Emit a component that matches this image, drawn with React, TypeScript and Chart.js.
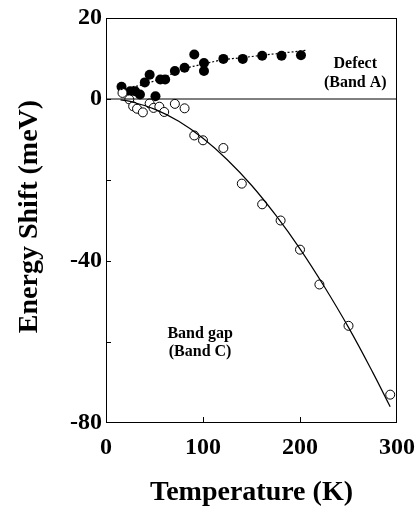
import React, { useEffect, useRef } from "react";
import { Chart, registerables } from "chart.js";

Chart.register(...registerables);

const defectT = [16, 25, 30, 35, 51, 40, 45, 56, 61, 71, 81, 91, 101, 101, 121, 141, 161, 181, 201];
const defectE = [3.0, 1.9, 1.9, 1.1, 0.7, 4.1, 6.0, 4.8, 4.8, 6.9, 7.7, 11.0, 8.9, 6.9, 9.9, 9.9, 10.7, 10.7, 10.8];

const defectFitT = [15, 25, 37, 57, 80, 100, 121, 140, 161, 180, 206];
const defectFitE = [2.3, 2.9, 3.5, 5.1, 7.4, 8.6, 9.7, 10.2, 10.8, 11.3, 12.0];

const gapT = [17, 24, 28, 32, 38, 45, 49, 55, 60, 71, 81, 91, 100, 121, 140, 161, 180, 200, 220, 250, 293];
const gapE = [1.5, -0.1, -1.8, -2.4, -3.3, -1.1, -2.2, -1.9, -3.2, -1.2, -2.3, -9.0, -10.2, -12.1, -20.9, -26.0, -30.0, -37.2, -45.8, -56.0, -73.0];

const gapFitT = [15, 25, 50, 75, 100, 125, 150, 175, 200, 225, 250, 275, 293];
const gapFitE = [-0.2, -0.6, -2.5, -5.5, -9.7, -15.0, -21.3, -28.7, -37.0, -46.3, -56.4, -67.5, -76.0];

const zeroT = [0, 300];
const zeroE = [0, 0];

const yLabelsShown = [20, 0, -40, -80];

const xTitle = "Temperature (K)";
const yTitle = "Energy Shift (meV)";
const notes = [
  { text: "Defect", t: 257, e: 8.7 },
  { text: "(Band A)", t: 257, e: 4.0 },
  { text: "Band gap", t: 97, e: -58.0 },
  { text: "(Band C)", t: 97, e: -62.5 },
];

const FONT = "'Liberation Serif', 'Times New Roman', serif";

const pts = (xs: number[], ys: number[]) => xs.map((x, i) => ({ x, y: ys[i] }));

const decor = {
  id: "decor",
  afterDraw(chart: any) {
    const ctx = chart.ctx;
    const a = chart.chartArea;
    const xs = chart.scales.x;
    const ys = chart.scales.y;
    ctx.save();
    ctx.strokeStyle = "#000";
    ctx.lineWidth = 1;
    ctx.strokeRect(a.left + 0.5, a.top + 0.5, a.right - a.left - 1, a.bottom - a.top - 1);
    // inward ticks
    ctx.beginPath();
    [-60, -40, -20, 0].forEach((v) => {
      const y = Math.round(ys.getPixelForValue(v)) + 0.5;
      ctx.moveTo(a.left, y);
      ctx.lineTo(a.left + 5, y);
    });
    [100, 200].forEach((v) => {
      const x = Math.round(xs.getPixelForValue(v)) + 0.5;
      ctx.moveTo(x, a.bottom);
      ctx.lineTo(x, a.bottom - 6);
    });
    ctx.stroke();
    // annotations
    ctx.fillStyle = "#000";
    ctx.textAlign = "center";
    ctx.textBaseline = "middle";
    ctx.font = `bold 16px ${FONT}`;
    notes.forEach((n) => {
      ctx.fillText(n.text, xs.getPixelForValue(n.t), ys.getPixelForValue(n.e));
    });
    // axis titles
    ctx.font = `bold 28px ${FONT}`;
    ctx.fillText(xTitle, (a.left + a.right) / 2, 493);
    ctx.translate(30, (a.top + a.bottom) / 2 - 4);
    ctx.rotate(-Math.PI / 2);
    ctx.fillText(yTitle, 0, 0);
    ctx.restore();
  },
};

export default function App() {
  const ref = useRef<HTMLCanvasElement | null>(null);
  useEffect(() => {
    if (!ref.current) return;
    const chart = new Chart(ref.current, {
      type: "scatter",
      data: {
        datasets: [
          {
            data: pts(zeroT, zeroE),
            showLine: true,
            borderColor: "#000",
            borderWidth: 1,
            pointRadius: 0,
          },
          {
            data: pts(gapFitT, gapFitE),
            showLine: true,
            borderColor: "#000",
            borderWidth: 1.2,
            pointRadius: 0,
            tension: 0.4,
          },
          {
            data: pts(defectFitT, defectFitE),
            showLine: true,
            borderColor: "#000",
            borderWidth: 1.2,
            borderDash: [2, 2],
            pointRadius: 0,
            tension: 0.4,
          },
          {
            data: pts(gapT, gapE),
            pointRadius: 4.5,
            pointBackgroundColor: "#fff",
            pointBorderColor: "#000",
            pointBorderWidth: 1,
          },
          {
            data: pts(defectT, defectE),
            pointRadius: 5,
            pointBackgroundColor: "#000",
            pointBorderColor: "#000",
            pointBorderWidth: 0,
          },
        ],
      },
      options: {
        responsive: false,
        animation: false,
        events: [],
        layout: { padding: { top: 18, right: 20, left: 0, bottom: 0 } },
        plugins: { legend: { display: false }, tooltip: { enabled: false } },
        scales: {
          x: {
            type: "linear",
            min: 0,
            max: 300,
            afterFit: (s: any) => {
              s.height = 88;
              s.paddingLeft = 0;
              s.paddingRight = 0;
            },
            grid: { display: false, drawTicks: false },
            border: { display: false },
            ticks: {
              stepSize: 100,
              padding: 10,
              color: "#000",
              font: { family: FONT, size: 24, weight: "bold" },
              maxRotation: 0,
            },
          },
          y: {
            type: "linear",
            min: -80,
            max: 20,
            afterFit: (s: any) => {
              s.width = 106;
              s.paddingTop = 0;
              s.paddingBottom = 0;
            },
            grid: { display: false, drawTicks: false },
            border: { display: false },
            ticks: {
              stepSize: 20,
              padding: 4,
              color: "#000",
              font: { family: FONT, size: 24, weight: "bold" },
              callback: (v: any) => (yLabelsShown.includes(Number(v)) ? String(v) : ""),
            },
          },
        },
      },
      plugins: [decor],
    });
    return () => chart.destroy();
  }, []);
  return (
    <div style={{ position: "absolute", left: 0, top: 0, width: 417, height: 511, background: "#fff" }}>
      <canvas ref={ref} width={417} height={511} style={{ display: "block", width: 417, height: 511 }} />
    </div>
  );
}
